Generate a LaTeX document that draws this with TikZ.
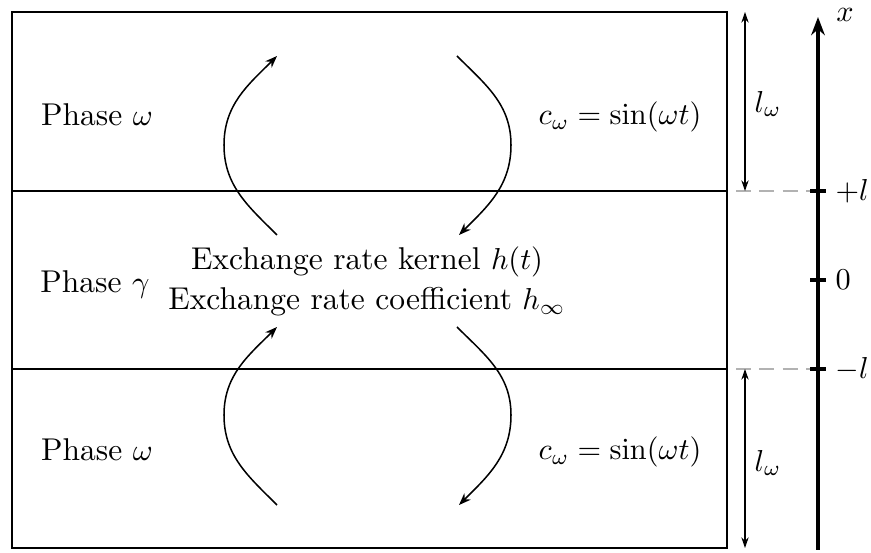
\documentclass[tikz,border=0pt]{standalone}
\usetikzlibrary{arrows.meta}
\begin{document}
\begin{tikzpicture}[x=0.33pt,y=0.33pt,
  every node/.style={font=\fontsize{10.4pt}{12.5pt}\selectfont},
  border/.style={line width=0.9pt},
  flow/.style={line width=0.5pt,-{Stealth[length=4pt,width=3pt]}},
  dim/.style={line width=0.4pt,{Stealth[length=3.5pt,width=2.4pt]}-{Stealth[length=3.5pt,width=2.4pt]}},
  guide/.style={line width=0.5pt,gray!60,dash pattern=on 5pt off 2.7pt},
  axisline/.style={line width=1pt,-{Stealth[length=6pt,width=4.5pt]}},
  tick/.style={line width=1.1pt},
  lbl/.style={inner sep=0pt}]
\useasboundingbox (0,0) rectangle (871,553);
% box and interfaces
\draw[border] (12,5) rectangle (727,541);
\coordinate (ilt) at (12,362); \coordinate (irt) at (727,362);
\coordinate (ilb) at (12,184); \coordinate (irb) at (727,184);
\draw[border] (ilt) -- (irt);
\draw[border] (ilb) -- (irb);
% axis
\coordinate (a0) at (818,3); \coordinate (a1) at (818,536);
\draw[axisline] (a0) -- (a1);
\node[lbl] (xl) at (845,538) {$x$};
\coordinate (tp1) at (810,362); \coordinate (tp2) at (826,362);
\coordinate (t01) at (810,273); \coordinate (t02) at (826,273);
\coordinate (tm1) at (810,184); \coordinate (tm2) at (826,184);
\draw[tick] (tp1) -- (tp2);
\draw[tick] (t01) -- (t02);
\draw[tick] (tm1) -- (tm2);
\node[lbl,anchor=west] (lp) at (835,362) {$+l$};
\node[lbl,anchor=west] (l0) at (835,273) {$0$};
\node[lbl,anchor=west] (lm) at (835,184) {$-l$};
% dashed guides
\coordinate (gp) at (736,362); \coordinate (gm) at (736,184);
\draw[guide] (gp) -- (tp1);
\draw[guide] (gm) -- (tm1);
% dimension arrows
\coordinate (d1) at (745,541); \coordinate (d2) at (745,362);
\coordinate (d3) at (745,184); \coordinate (d4) at (745,5);
\draw[dim] (d1) -- (d2);
\draw[dim] (d3) -- (d4);
\node[lbl] (lw1) at (768,449) {$l_\omega$};
\node[lbl] (lw2) at (768,90) {$l_\omega$};
% texts
\node (pw1) at (97,438) {Phase $\omega$};
\node (pg) at (95,268) {Phase $\gamma$};
\node (pw2) at (97,103) {Phase $\omega$};
\node (c1) at (620,436) {$c_\omega = \sin(\omega t)$};
\node (c2) at (620,101) {$c_\omega = \sin(\omega t)$};
\node (k1) at (367,291) {Exchange rate kernel $h(t)$};
\node (k2) at (367,251) {Exchange rate coefficient $h_\infty$};
% curved flow arrows
\coordinate (tl0) at (277,318); \coordinate (tl1) at (224,408); \coordinate (tl2) at (277,497);
\coordinate (tr0) at (457,497); \coordinate (tr1) at (511,408); \coordinate (tr2) at (459,318);
\coordinate (bl0) at (277,48); \coordinate (bl1) at (224,138); \coordinate (bl2) at (277,226);
\coordinate (br0) at (457,226); \coordinate (br1) at (511,138); \coordinate (br2) at (459,48);
\draw[flow] (tl0) to[out=135,in=270] (tl1) to[out=90,in=225] (tl2);
\draw[flow] (tr0) to[out=-45,in=90] (tr1) to[out=270,in=45] (tr2);
\draw[flow] (bl0) to[out=135,in=270] (bl1) to[out=90,in=225] (bl2);
\draw[flow] (br0) to[out=-45,in=90] (br1) to[out=270,in=45] (br2);
\end{tikzpicture}
\end{document}
